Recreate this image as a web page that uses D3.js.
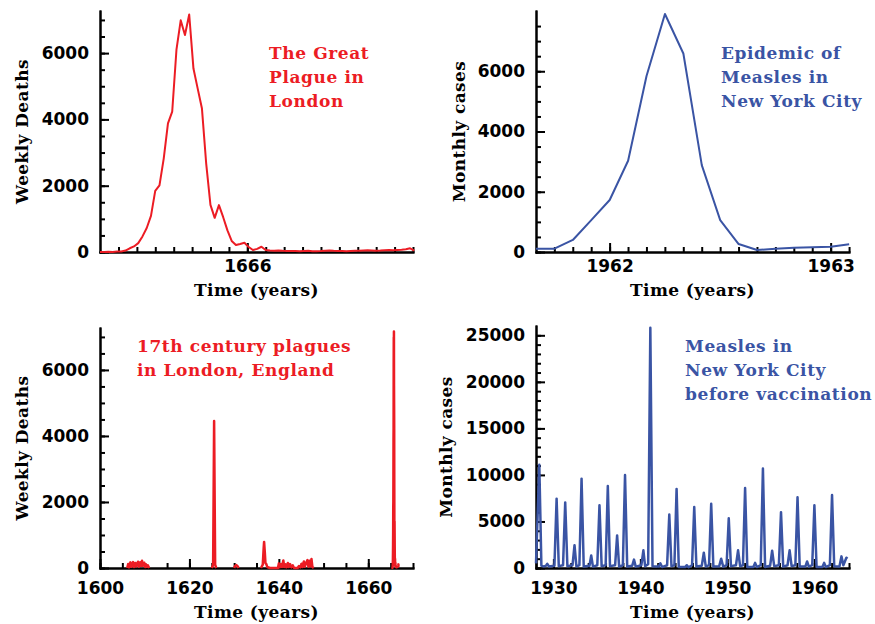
<!DOCTYPE html>
<html>
<head>
<meta charset="utf-8">
<script src="https://cdn.jsdelivr.net/npm/d3@7"></script>
<style>
  body { margin: 0; background: #fff; }
  .tick text { font-family: 'DejaVu Sans', sans-serif; font-weight: bold; font-size: 17px; fill: #000; }
  .title { font-family: 'DejaVu Serif', serif; font-weight: bold; font-size: 17px; letter-spacing: 0.4px; fill: #000; }
  .note { font-family: 'DejaVu Serif', serif; font-weight: bold; font-size: 17px; letter-spacing: 0.6px; }
</style>
</head>
<body>
<svg id="chart" width="875" height="624"></svg>
<script>
const RED = '#ec1c24';
const BLUE = '#3a54a4';

// Great Plague of London, weekly plague deaths, first week at plagueStart
const plagueStart = 1665.333;
const plagueWeekly = [
  0, 0, 9, 3, 14, 17, 43, 112, 168, 267, 470, 725, 1089, 1843, 2010, 2817,
  3880, 4237, 6102, 6988, 6544, 7165, 5533, 4929, 4327, 2665, 1421, 1031,
  1414, 1050, 652, 333, 210, 243, 281, 152, 60, 95, 158, 60,
  45, 40, 48, 35, 30, 28, 32, 25, 30, 35, 20, 25, 30, 40, 45, 35, 30, 28,
  25, 30, 35, 40, 45, 50, 45, 40, 45, 55, 60, 50, 60, 70, 85, 110, 40
];

// Measles epidemic in NYC 1961-63, monthly cases, first month at measlesStart
const measlesStart = 1961.667;
const measlesMonthly = [110, 110, 400, 1060, 1725, 3030, 5840, 7900, 6590, 2885, 1060, 265, 66, 110, 143, 156, 176, 255];

// 17th century plague outbreaks in London: [year, weekly deaths]
const plague1606 = [
  [1606.1, 0], [1606.3, 120], [1606.5, 20], [1606.8, 170], [1607.0, 40], [1607.2, 110],
  [1607.4, 180], [1607.6, 30], [1607.9, 150], [1608.1, 50], [1608.3, 100], [1608.5, 190],
  [1608.7, 40], [1609.0, 170], [1609.2, 60], [1609.4, 220], [1609.6, 70], [1609.9, 160],
  [1610.1, 30], [1610.3, 110], [1610.5, 40], [1610.7, 80], [1611.0, 0]
];
const plague1625 = [[1625.0, 0], [1625.3, 100], [1625.52, 4450], [1625.75, 100], [1626.0, 0]];
const plague1630 = [[1630.0, 0], [1630.2, 60], [1630.5, 90], [1630.8, 50], [1631.0, 0]];
const plague1636 = [
  [1636.0, 0], [1636.4, 100], [1636.6, 600], [1636.7, 790], [1636.85, 500], [1637.0, 150],
  [1637.2, 120], [1637.4, 30], [1638.0, 0], [1639.8, 0], [1640.0, 140], [1640.2, 20],
  [1640.5, 120], [1640.7, 30], [1641.0, 230], [1641.2, 30], [1641.5, 110], [1641.7, 20],
  [1642.0, 150], [1642.2, 30], [1642.5, 120], [1642.8, 20], [1643.1, 80], [1643.4, 0],
  [1644.2, 0], [1644.5, 60], [1644.8, 20], [1645.1, 130], [1645.3, 30], [1645.6, 200],
  [1645.8, 40], [1646.1, 150], [1646.4, 240], [1646.6, 40], [1646.8, 220], [1647.0, 50],
  [1647.3, 270], [1647.5, 30], [1647.8, 0]
];

// NYC measles before vaccination, monthly: [year, cases]
const measlesNYC = [
  [1928.0, 500], [1928.38, 11100], [1928.62, 250], [1928.9, 150], [1929.15, 250], [1929.3, 450],
  [1929.5, 150], [1930.12, 250], [1930.37, 7450], [1930.62, 200], [1931.11, 300], [1931.36, 7050],
  [1931.61, 200], [1932.2, 300], [1932.43, 2450], [1932.65, 150], [1932.99, 300], [1933.24, 9600],
  [1933.49, 150], [1934.15, 250], [1934.35, 1350], [1934.55, 150], [1935.05, 300], [1935.3, 6750],
  [1935.55, 200], [1936.01, 300], [1936.26, 8800], [1936.51, 200], [1937.1, 300], [1937.33, 3500],
  [1937.56, 150], [1937.99, 300], [1938.24, 10000], [1938.49, 150], [1939.07, 250], [1939.27, 900],
  [1939.47, 150], [1940.12, 300], [1940.35, 1900], [1940.55, 200], [1940.9, 400], [1941.15, 25800],
  [1941.4, 200], [1942.1, 150], [1942.3, 500], [1942.5, 100], [1943.08, 300], [1943.33, 5750],
  [1943.58, 200], [1943.92, 300], [1944.17, 8500], [1944.42, 100], [1945.15, 100], [1945.35, 300],
  [1945.55, 80], [1945.95, 300], [1946.2, 6550], [1946.45, 150], [1947.07, 250], [1947.3, 1650],
  [1947.53, 150], [1947.9, 300], [1948.15, 6900], [1948.4, 150], [1949.07, 200], [1949.3, 1000],
  [1949.53, 150], [1949.92, 300], [1950.17, 5350], [1950.42, 200], [1951.0, 300], [1951.24, 1900],
  [1951.48, 200], [1951.8, 300], [1952.05, 8600], [1952.3, 100], [1953.0, 100], [1953.2, 550],
  [1953.4, 100], [1953.85, 300], [1954.1, 10700], [1954.35, 100], [1954.93, 250], [1955.16, 1850],
  [1955.4, 200], [1955.93, 300], [1956.18, 6000], [1956.43, 150], [1956.93, 300], [1957.17, 1900],
  [1957.4, 200], [1957.83, 300], [1958.08, 7600], [1958.33, 150], [1958.98, 150], [1959.18, 700],
  [1959.38, 150], [1959.77, 300], [1960.02, 6750], [1960.27, 100], [1960.94, 100], [1961.14, 550],
  [1961.34, 100], [1961.8, 300], [1962.05, 7850], [1962.3, 200], [1962.9, 150], [1963.13, 1250],
  [1963.35, 300], [1963.7, 1100], [1963.82, 1000]
];

const svg = d3.select('#chart');

function drawPanel(opts) {
  const x = d3.scaleLinear().domain(opts.xDomain).range(opts.xRange);
  const y = d3.scaleLinear().domain(opts.yDomain).range(opts.yRange);
  const bottom = opts.yRange[0];
  const left = opts.xRange[0];
  const g = svg.append('g');

  const styleAxis = (sel) => {
    sel.selectAll('path, line').attr('stroke', '#000').attr('stroke-width', 2);
  };

  // minor ticks first, then major ticks with labels
  g.append('g')
    .attr('transform', `translate(0,${bottom})`)
    .call(d3.axisBottom(x).tickValues(opts.xMinor).tickSizeInner(-5).tickSizeOuter(0).tickFormat(''))
    .call(styleAxis);
  g.append('g')
    .attr('transform', `translate(0,${bottom})`)
    .call(d3.axisBottom(x).tickValues(opts.xMajor).tickSizeInner(-9).tickSizeOuter(0)
      .tickPadding(opts.xPad).tickFormat(d3.format('d')))
    .call(styleAxis);
  g.append('g')
    .attr('transform', `translate(${left},0)`)
    .call(d3.axisLeft(y).tickValues(opts.yMinor).tickSizeInner(-5).tickSizeOuter(0).tickFormat(''))
    .call(styleAxis);
  g.append('g')
    .attr('transform', `translate(${left},0)`)
    .call(d3.axisLeft(y).tickValues(opts.yMajor).tickSizeInner(-9).tickSizeOuter(0)
      .tickPadding(11).tickFormat(d3.format('d')))
    .call(styleAxis);
  g.selectAll('.domain').attr('stroke-linecap', 'square');

  const line = d3.line()
    .x((d) => x(d[0]))
    .y((d) => y(d[1]));

  g.append('g')
    .selectAll('path')
    .data(opts.series)
    .join('path')
    .attr('d', line)
    .attr('fill', 'none')
    .attr('stroke', opts.color)
    .attr('stroke-width', opts.lineWidth)
    .attr('stroke-linejoin', 'round');

  // axis titles
  g.append('text')
    .attr('class', 'title')
    .attr('text-anchor', 'middle')
    .attr('x', (opts.xRange[0] + opts.xRange[1]) / 2)
    .attr('y', opts.xTitleY)
    .text('Time (years)');
  g.append('text')
    .attr('class', 'title')
    .attr('text-anchor', 'middle')
    .attr('transform', `translate(${opts.yTitleX},${(opts.yRange[0] + opts.yRange[1]) / 2}) rotate(-90)`)
    .text(opts.yTitle);

  // annotation
  g.append('text')
    .attr('class', 'note')
    .attr('fill', opts.color)
    .selectAll('tspan')
    .data(opts.note)
    .join('tspan')
    .attr('x', opts.noteX)
    .attr('y', (d, i) => opts.noteY + i * 24)
    .text((d) => d);
}

const months = (from, to) => d3.range(from, to + 1).map((m) => m / 12);

drawPanel({
  xDomain: [plagueStart, 1666.75], xRange: [100, 413],
  yDomain: [0, 7270], yRange: [252, 11],
  xMinor: months(5, 21).map((m) => 1665 + m), xMajor: [1666], xPad: 8,
  yMinor: d3.range(0, 7001, 500), yMajor: [0, 2000, 4000, 6000],
  series: [plagueWeekly.map((v, i) => [plagueStart + i / 52, v])],
  color: RED, lineWidth: 2,
  xTitleY: 296, yTitle: 'Weekly Deaths', yTitleX: 28,
  note: ['The Great', 'Plague in', 'London'], noteX: 269, noteY: 59
});

drawPanel({
  xDomain: [measlesStart, 1963.083], xRange: [536, 849],
  yDomain: [0, 8000], yRange: [252, 11],
  xMinor: months(9, 25).map((m) => 1961 + m), xMajor: [1962, 1963], xPad: 8,
  yMinor: d3.range(0, 7501, 500), yMajor: [0, 2000, 4000, 6000],
  series: [measlesMonthly.map((v, i) => [measlesStart + i / 12, v])],
  color: BLUE, lineWidth: 2,
  xTitleY: 296, yTitle: 'Monthly cases', yTitleX: 465,
  note: ['Epidemic of', 'Measles in', 'New York City'], noteX: 721, noteY: 59
});

drawPanel({
  xDomain: [1600, 1670], xRange: [100, 413],
  yDomain: [0, 7270], yRange: [568, 328],
  xMinor: d3.range(1600, 1671, 5), xMajor: [1600, 1620, 1640, 1660], xPad: 14,
  yMinor: d3.range(0, 7001, 500), yMajor: [0, 2000, 4000, 6000],
  series: [plague1606, plague1625, plague1630, plague1636,
    plagueWeekly.map((v, i) => [plagueStart + i / 52, v])],
  color: RED, lineWidth: 2.5,
  xTitleY: 618, yTitle: 'Weekly Deaths', yTitleX: 28,
  note: ['17th century plagues', 'in London, England'], noteX: 137, noteY: 352
});

drawPanel({
  xDomain: [1928, 1964], xRange: [536, 849],
  yDomain: [0, 26000], yRange: [568, 326],
  xMinor: d3.range(1928, 1965, 2), xMajor: [1930, 1940, 1950, 1960], xPad: 14,
  yMinor: d3.range(0, 25001, 1000), yMajor: [0, 5000, 10000, 15000, 20000, 25000],
  series: [measlesNYC],
  color: BLUE, lineWidth: 2.5,
  xTitleY: 618, yTitle: 'Monthly cases', yTitleX: 452,
  note: ['Measles in', 'New York City', 'before vaccination'], noteX: 685, noteY: 352
});
</script>
</body>
</html>
